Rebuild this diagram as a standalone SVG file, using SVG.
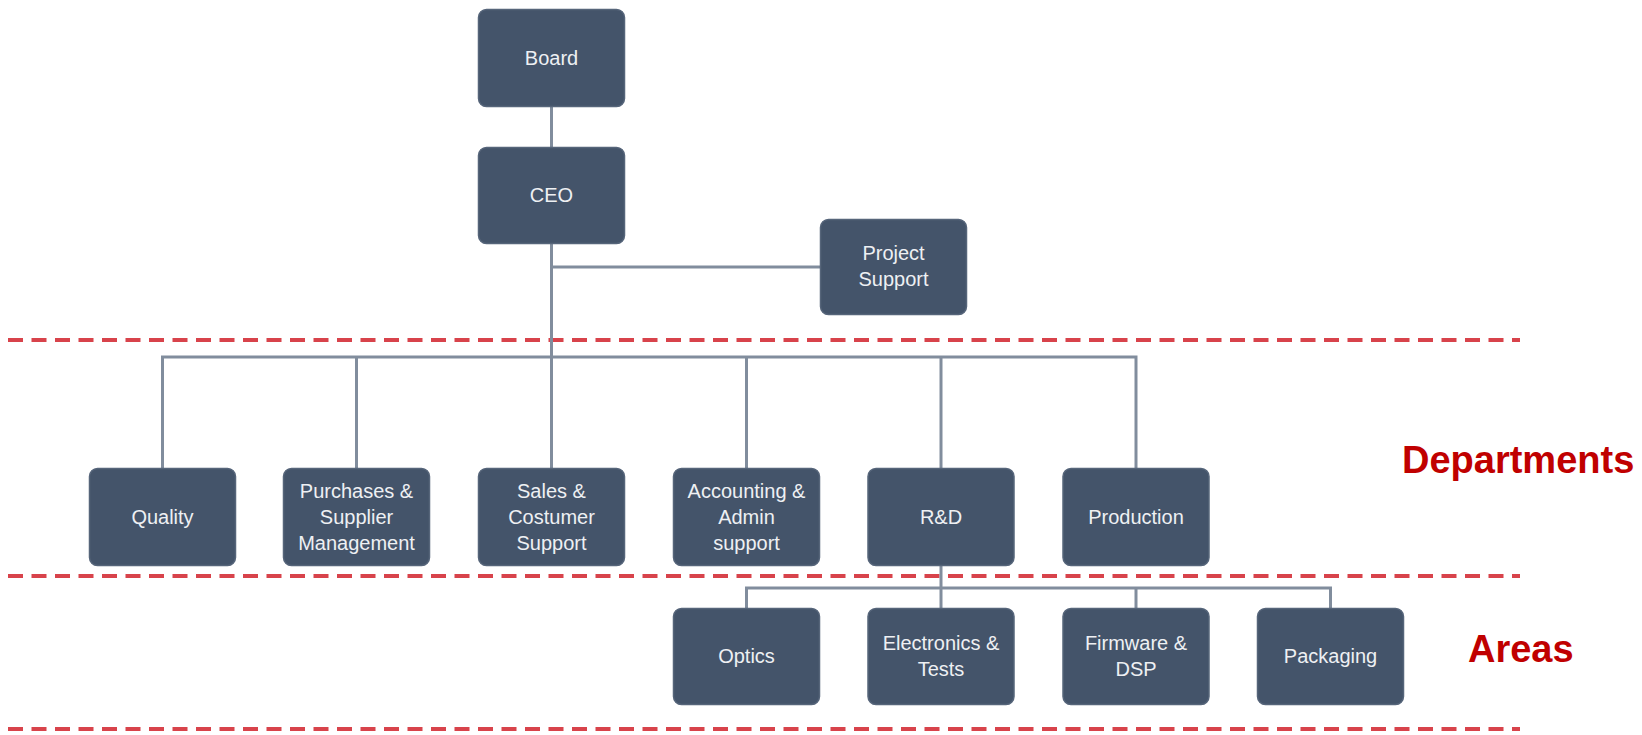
<svg xmlns="http://www.w3.org/2000/svg" width="1642" height="735" viewBox="0 0 1642 735">
<style>
.box{fill:#44546A;stroke:#56657a;stroke-width:1.5}
.t{font-family:"Liberation Sans",Arial,sans-serif;font-size:20px;fill:#EEF0F3;text-anchor:middle}
.lbl{font-family:"Liberation Sans",Arial,sans-serif;font-size:38px;font-weight:bold;fill:#C00000}
.dash{stroke:#D8434B;stroke-width:4;stroke-dasharray:15 8.5;fill:none}
.con{stroke:#818D9D;stroke-width:3;fill:none}
</style>
<rect width="1642" height="735" fill="#FFFFFF"/>
<g id="separators">
<line class="dash" x1="8" y1="340" x2="1520" y2="340"/>
<line class="dash" x1="8" y1="576" x2="1520" y2="576"/>
<line class="dash" x1="8" y1="729" x2="1520" y2="729"/>
</g>
<g id="connectors">
<line class="con" x1="551.5" y1="106" x2="551.5" y2="148"/>
<polyline class="con" points="551.5,243 551.5,357"/>
<line class="con" x1="551.5" y1="267" x2="821" y2="267"/>
<polyline class="con" points="162.5,468 162.5,357 1136,357 1136,468"/>
<line class="con" x1="356.5" y1="357" x2="356.5" y2="468"/>
<line class="con" x1="551.5" y1="357" x2="551.5" y2="468"/>
<line class="con" x1="746.5" y1="357" x2="746.5" y2="468"/>
<line class="con" x1="941" y1="357" x2="941" y2="468"/>
<line class="con" x1="941" y1="565" x2="941" y2="608"/>
<polyline class="con" points="746.5,608 746.5,588 1330.5,588 1330.5,608"/>
<line class="con" x1="1136" y1="588" x2="1136" y2="608"/>
</g>
<g id="board"><rect class="box" x="478.5" y="9.5" width="146" height="97" rx="8"/><text class="t" x="551.5" y="65">Board</text></g>
<g id="ceo"><rect class="box" x="478.5" y="147.5" width="146" height="96" rx="8"/><text class="t" x="551.5" y="202">CEO</text></g>
<g id="project-support"><rect class="box" x="820.5" y="219.5" width="146" height="95" rx="8"/><text class="t" x="893.5" y="260">Project</text><text class="t" x="893.5" y="286">Support</text></g>
<g id="quality"><rect class="box" x="89.5" y="468.5" width="146" height="97" rx="8"/><text class="t" x="162.5" y="524">Quality</text></g>
<g id="purchases"><rect class="box" x="283.5" y="468.5" width="146" height="97" rx="8"/><text class="t" x="356.5" y="498">Purchases &amp;</text><text class="t" x="356.5" y="524">Supplier</text><text class="t" x="356.5" y="550">Management</text></g>
<g id="sales"><rect class="box" x="478.5" y="468.5" width="146" height="97" rx="8"/><text class="t" x="551.5" y="498">Sales &amp;</text><text class="t" x="551.5" y="524">Costumer</text><text class="t" x="551.5" y="550">Support</text></g>
<g id="accounting"><rect class="box" x="673.5" y="468.5" width="146" height="97" rx="8"/><text class="t" x="746.5" y="498">Accounting &amp;</text><text class="t" x="746.5" y="524">Admin</text><text class="t" x="746.5" y="550">support</text></g>
<g id="rnd"><rect class="box" x="868" y="468.5" width="146" height="97" rx="8"/><text class="t" x="941" y="524">R&amp;D</text></g>
<g id="production"><rect class="box" x="1063" y="468.5" width="146" height="97" rx="8"/><text class="t" x="1136" y="524">Production</text></g>
<g id="optics"><rect class="box" x="673.5" y="608.5" width="146" height="96" rx="8"/><text class="t" x="746.5" y="663">Optics</text></g>
<g id="electronics"><rect class="box" x="868" y="608.5" width="146" height="96" rx="8"/><text class="t" x="941" y="650">Electronics &amp;</text><text class="t" x="941" y="676">Tests</text></g>
<g id="firmware"><rect class="box" x="1063" y="608.5" width="146" height="96" rx="8"/><text class="t" x="1136" y="650">Firmware &amp;</text><text class="t" x="1136" y="676">DSP</text></g>
<g id="packaging"><rect class="box" x="1257.5" y="608.5" width="146" height="96" rx="8"/><text class="t" x="1330.5" y="663">Packaging</text></g>
<g id="labels">
<text class="lbl" x="1402" y="473">Departments</text>
<text class="lbl" x="1468" y="662">Areas</text>
</g>
</svg>
